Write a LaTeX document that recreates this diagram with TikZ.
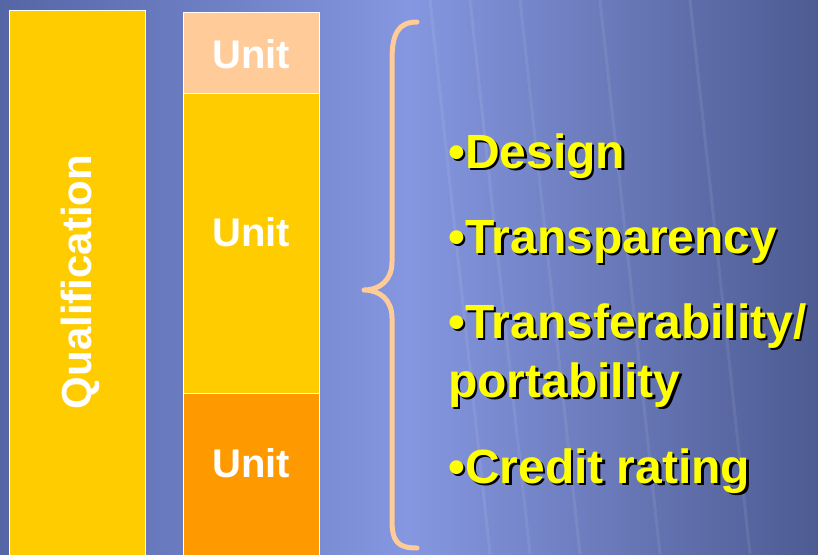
\documentclass[tikz,border=0pt]{standalone}
\usepackage{fontspec}
\setmainfont{Liberation Sans}
\usetikzlibrary{positioning}
\definecolor{bgdark}{HTML}{5566A6}
\definecolor{bglight}{HTML}{8597E0}
\definecolor{bgright}{HTML}{4D5B92}
\definecolor{peach}{HTML}{FFCC99}
\definecolor{gold}{HTML}{FFCC00}
\definecolor{amber}{HTML}{FF9900}
\definecolor{lemon}{HTML}{FFFF00}
\newcommand{\dropshade}[1]{\makebox[0pt][l]{\hspace{2.5pt}\raisebox{-2.5pt}{\color{black}#1}}#1}
\tikzset{block/.style={draw=white,line width=0.8pt,inner sep=0pt,minimum width=136pt,anchor=north west}}
\tikzset{unitlabel/.style={text=white,font=\bfseries\fontsize{40}{40}\selectfont}}
\tikzset{point/.style={anchor=west,inner sep=0pt,text=lemon,font=\bfseries\fontsize{48}{50}\selectfont,align=left}}
\begin{document}
\begin{tikzpicture}[x=1pt,y=-1pt]
        % background
        \useasboundingbox (0,0) rectangle (818,554);
        \shade[left color=bgdark,right color=bgright,middle color=bglight] (0,0) rectangle (818,554);
        \foreach \sx in {430,470,520,600,690} {
            \draw[white,opacity=0.08,line width=3pt] (\sx,0) -- (\sx+60,554);
        }
        % qualification
        \node[block,fill=gold,minimum height=546pt] (qual) at (9,10) {};
        \node[unitlabel,rotate=90,font=\bfseries\fontsize{42}{42}\selectfont] (quallabel) at (80,282) {Qualification};
        % units
        \node[block,fill=peach,minimum height=81pt] (unitA) at (183,12) {};
        \node[block,fill=gold,minimum height=300pt] (unitB) at (183,93) {};
        \node[block,fill=amber,minimum height=163pt] (unitC) at (183,393) {};
        \node[unitlabel] (labelA) at (251,54) {Unit};
        \node[unitlabel] (labelB) at (251,232) {Unit};
        \node[unitlabel] (labelC) at (251,463) {Unit};
        % brace
        \draw[peach,line width=5pt,line cap=round,line join=round]
            (417,22) .. controls (398,22) and (392,34) .. (392,60) -- (392,262)
            .. controls (392,280) and (380,290) .. (364,290)
            .. controls (380,290) and (392,300) .. (392,318) -- (392,520)
            .. controls (392,542) and (398,548) .. (417,548);
        % points
        \node[point] (ptA) at (448,157) {\dropshade{•Design}};
        \node[point] (ptB) at (448,243) {\dropshade{•Transparency}};
        \node[point] (ptC) at (448,327) {\dropshade{•Transferability/}};
        \node[point] (ptD) at (448,386) {\dropshade{portability}};
        \node[point] (ptE) at (448,472) {\dropshade{•Credit rating}};
\end{tikzpicture}
\end{document}
